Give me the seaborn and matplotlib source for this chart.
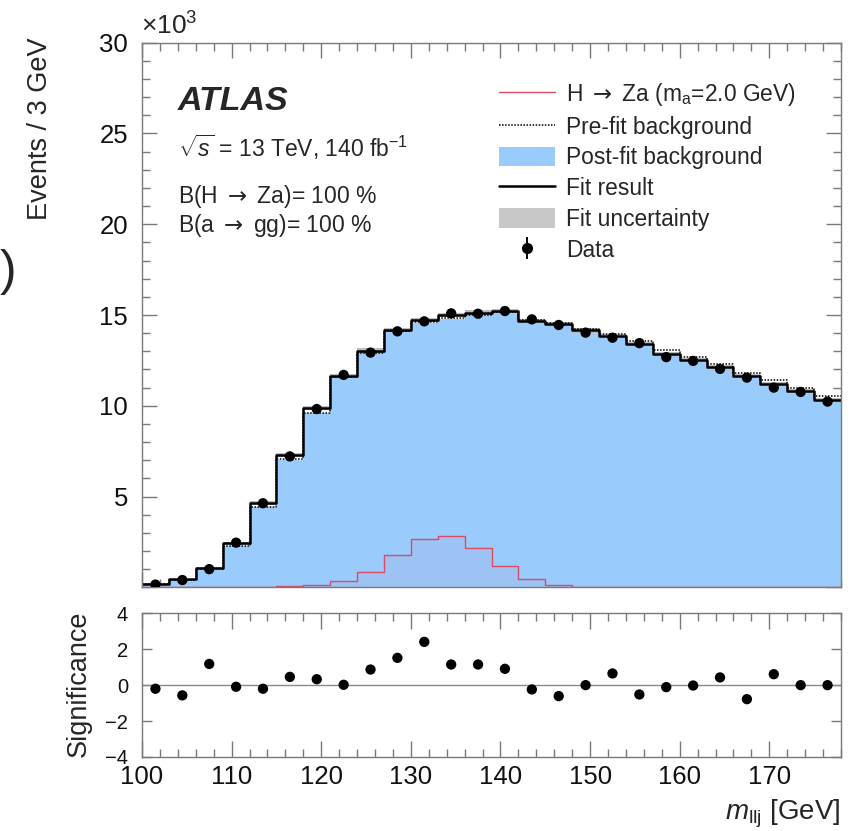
import numpy as np
import pandas as pd
import matplotlib
matplotlib.use("Agg")
import matplotlib.pyplot as plt
import seaborn as sns
from matplotlib.lines import Line2D
from matplotlib.patches import Patch
from matplotlib.ticker import MultipleLocator
from matplotlib.legend_handler import HandlerTuple

# m_llj binning (3 GeV bins)
bin_edges = [100, 103, 106, 109, 112, 115, 118, 121, 124, 127, 130, 133, 136,
             139, 142, 145, 148, 151, 154, 157, 160, 163, 166, 169, 172, 175, 178]

# Events per bin, in units of 10^3
data_events = [0.15, 0.40, 1.00, 2.46, 4.63, 7.21, 9.82, 11.70, 12.93, 14.10,
               14.65, 15.09, 15.07, 15.22, 14.76, 14.45, 14.03, 13.75, 13.45,
               12.68, 12.47, 12.03, 11.55, 11.00, 10.76, 10.23]
fit_result = [0.18, 0.45, 1.08, 2.42, 4.65, 7.30, 9.86, 11.66, 13.04, 14.18,
              14.73, 14.99, 15.13, 15.22, 14.67, 14.52, 14.15, 13.84, 13.40,
              12.87, 12.53, 12.12, 11.62, 11.20, 10.80, 10.32]
prefit_bkg = [0.16, 0.40, 1.00, 2.27, 4.45, 7.06, 9.62, 11.57, 12.93, 14.10,
              14.60, 14.82, 15.00, 15.15, 14.70, 14.58, 14.25, 13.97, 13.56,
              13.05, 12.70, 12.30, 11.80, 11.40, 11.00, 10.52]
postfit_bkg = [0.15, 0.39, 0.98, 2.25, 4.43, 7.04, 9.58, 11.54, 12.90, 14.06,
               14.57, 14.80, 14.98, 15.12, 14.62, 14.47, 14.10, 13.79, 13.35,
               12.82, 12.50, 12.08, 11.58, 11.15, 10.76, 10.28]
fit_uncertainty = [0.02, 0.03, 0.05, 0.07, 0.09, 0.10, 0.11, 0.11, 0.12, 0.12,
                   0.12, 0.12, 0.12, 0.12, 0.12, 0.12, 0.12, 0.12, 0.12, 0.11,
                   0.11, 0.11, 0.11, 0.11, 0.11, 0.11]
signal_ma2 = [0.01, 0.01, 0.01, 0.02, 0.02, 0.05, 0.13, 0.34, 0.86, 1.78, 2.65,
              2.83, 2.17, 1.19, 0.48, 0.13, 0.04, 0.02, 0.01, 0.01, 0.01, 0.01,
              0.01, 0.01, 0.01, 0.01]
significance = [-0.20, -0.57, 1.18, -0.09, -0.20, 0.46, 0.33, 0.02, 0.87, 1.52,
                2.41, 1.15, 1.15, 0.91, -0.24, -0.61, 0.00, 0.65, -0.52, -0.11,
                -0.02, 0.43, -0.78, 0.61, 0.00, 0.00]

y_ticks_main = [0, 5, 10, 15, 20, 25, 30]
y_ticklabels_main = ["", "5", "10", "15", "20", "25", "30"]
y_ticks_sig = [-4, -2, 0, 2, 4]
x_ticks = [100, 110, 120, 130, 140, 150, 160, 170]

edges = np.asarray(bin_edges, dtype=float)
centers = 0.5 * (edges[:-1] + edges[1:])
df = pd.DataFrame({
    "mllj": centers,
    "data": data_events,
    "fit": fit_result,
    "prefit": prefit_bkg,
    "postfit": postfit_bkg,
    "unc": fit_uncertainty,
    "signal": signal_ma2,
    "sig": significance,
})

sns.set_theme(style="ticks")
plt.rcParams["font.family"] = ["Liberation Sans", "DejaVu Sans"]
plt.rcParams["mathtext.fontset"] = "custom"
plt.rcParams["mathtext.rm"] = "Liberation Sans"
plt.rcParams["mathtext.it"] = "Liberation Sans:italic"
plt.rcParams["mathtext.bf"] = "Liberation Sans:bold"
plt.rcParams["mathtext.sf"] = "DejaVu Sans"

BLUE = "#99cbfc"
RED = "#dc4a64"
GREY_BAND = "#bdbdbd"
FRAME = "#7a7a7a"
ARROW = r"$\mathsf{\rightarrow}$"

W, H = 861, 831
fig = plt.figure(figsize=(W / 100, H / 100), dpi=100)
ax = fig.add_axes([142 / W, 1 - 587.3 / H, 699 / W, (587.3 - 42.7) / H])
ax2 = fig.add_axes([142 / W, 1 - 757 / H, 699 / W, (757 - 613.3) / H], sharex=ax)

# --- main panel -----------------------------------------------------------
sns.histplot(data=df, x="mllj", weights="postfit", bins=bin_edges,
             element="step", fill=True, color=BLUE, alpha=1.0, linewidth=0,
             ax=ax)
sns.histplot(data=df, x="mllj", weights="signal", bins=bin_edges,
             element="step", fill=True, color=RED, alpha=0.06, linewidth=0,
             ax=ax)
sns.histplot(data=df, x="mllj", weights="signal", bins=bin_edges,
             element="step", fill=False, color=RED, linewidth=1.0, ax=ax)

band_lo = np.asarray(fit_result) - np.asarray(fit_uncertainty)
band_hi = np.asarray(fit_result) + np.asarray(fit_uncertainty)
ax.fill_between(edges, np.append(band_lo, band_lo[-1]),
                np.append(band_hi, band_hi[-1]), step="post",
                color=GREY_BAND, linewidth=0, zorder=2)
sns.histplot(data=df, x="mllj", weights="prefit", bins=bin_edges,
             element="step", fill=False, color="black", linewidth=1.1,
             linestyle=(0, (1, 1)), ax=ax)
sns.histplot(data=df, x="mllj", weights="fit", bins=bin_edges,
             element="step", fill=False, color="black", linewidth=1.8, ax=ax)
sns.scatterplot(data=df, x="mllj", y="data", color="black", s=55,
                edgecolor="none", zorder=5, ax=ax)

ax.set_xlim(100, 178)
ax.set_ylim(0, 30)
ax.set_yticks(y_ticks_main, labels=y_ticklabels_main)
ax.yaxis.set_minor_locator(MultipleLocator(1))
ax.set_xticks(x_ticks)
ax.xaxis.set_minor_locator(MultipleLocator(2))
ax.tick_params(axis="x", labelbottom=False)
ax.set_xlabel("")
ax.set_ylabel("")

# --- significance panel ---------------------------------------------------
ax2.axhline(0, color="#8a8a8a", linewidth=1.0, zorder=1)
sns.scatterplot(data=df, x="mllj", y="sig", color="black", s=55,
                edgecolor="none", zorder=5, ax=ax2)
ax2.set_ylim(-4, 4)
ax2.set_yticks(y_ticks_sig)
ax2.set_xlim(100, 178)
ax2.set_xticks(x_ticks)
ax2.xaxis.set_minor_locator(MultipleLocator(2))
ax2.set_xlabel("")
ax2.set_ylabel("")

for a in (ax, ax2):
    for s in a.spines.values():
        s.set_visible(True)
        s.set_color(FRAME)
        s.set_linewidth(1.0)
    a.tick_params(which="both", direction="in", top=True, right=True,
                  color=FRAME, width=1.0, labelcolor="#111111")

ax.tick_params(axis="y", which="major", length=10.5, pad=10, labelsize=18.5)
ax.tick_params(axis="y", which="minor", length=5.5)
ax.tick_params(axis="x", which="major", length=10.5)
ax.tick_params(axis="x", which="minor", length=5.5)
ax2.tick_params(axis="y", which="major", length=7, pad=10, labelsize=14.5)
ax2.tick_params(axis="x", which="major", length=11.5, pad=6, labelsize=18.5)
ax2.tick_params(axis="x", which="minor", length=5.8)

# --- texts ----------------------------------------------------------------
fig.text(141 / W, 1 - 35 / H, r"$\times10^{3}$", fontsize=19, ha="left",
         va="baseline")
fig.text(40 / W, 1 - 37 / H, "Events / 3 GeV", rotation=90, fontsize=19.5,
         ha="center", va="top")
fig.text(79 / W, 1 - 684 / H, "Significance", rotation=90, fontsize=19.5,
         ha="center", va="center")
fig.text(841 / W, 1 - 819 / H, r"$m_{\mathrm{llj}}$ [GeV]", fontsize=20,
         ha="right", va="baseline")

fig.text(178 / W, 1 - 110 / H, "ATLAS", fontsize=24.5, fontweight="bold",
         fontstyle="italic", ha="left", va="baseline")
fig.text(178 / W, 1 - 157 / H, r"$\sqrt{s}$ = 13 TeV, 140 fb$^{-1}$",
         fontsize=16.5, ha="left", va="baseline")
fig.text(178 / W, 1 - 203 / H, "B(H " + ARROW + " Za)= 100 %", fontsize=16.5,
         ha="left", va="baseline")
fig.text(178 / W, 1 - 232 / H, "B(a " + ARROW + " gg)= 100 %", fontsize=16.5,
         ha="left", va="baseline")
fig.text(0, 1 - 272 / H, ")", fontsize=36, ha="left", va="center")

# --- legend ---------------------------------------------------------------
data_handle = (Line2D([], [], marker="|", markersize=16, markeredgewidth=1.4,
                      color="black", linestyle="none"),
               Line2D([], [], marker="o", markersize=7, color="black",
                      linestyle="none"))
handles = [
    Line2D([], [], color=RED, linewidth=1.0),
    Line2D([], [], color="black", linewidth=1.1, linestyle=(0, (1, 1))),
    Patch(facecolor=BLUE, edgecolor="none"),
    Line2D([], [], color="black", linewidth=1.8),
    Patch(facecolor="#c8c8c8", edgecolor="none"),
    data_handle,
]
labels = [
    "H " + ARROW + r" Za (m$_{\mathrm{a}}$=2.0 GeV)",
    "Pre-fit background",
    "Post-fit background",
    "Fit result",
    "Fit uncertainty",
    "Data",
]
fig.legend(handles, labels, loc="upper left",
           bbox_to_anchor=(499 / W, 1 - 81 / H), frameon=False,
           fontsize=16.4, handlelength=2.45, handleheight=0.95,
           handletextpad=0.5, labelspacing=0.34, borderpad=0,
           borderaxespad=0,
           handler_map={tuple: HandlerTuple(ndivide=1)})

fig.savefig("out.png", dpi=100)
